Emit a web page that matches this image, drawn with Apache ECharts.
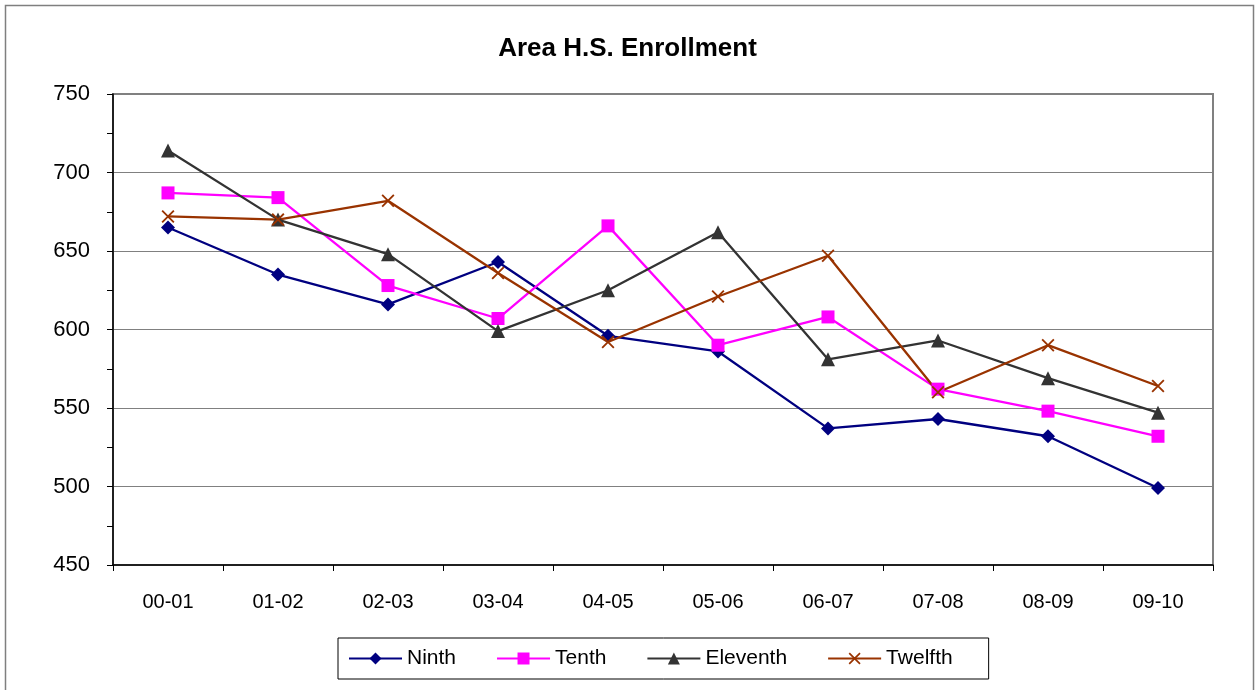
<!DOCTYPE html>
<html>
<head>
<meta charset="utf-8">
<script src="https://cdn.jsdelivr.net/npm/echarts@6/dist/echarts.min.js"></script>
<style>
  html, body { margin: 0; padding: 0; background: #fff; }
  #chart { width: 1255px; height: 690px; }
</style>
</head>
<body>
<div id="chart"></div>
<script>
var years = ['00-01', '01-02', '02-03', '03-04', '04-05', '05-06', '06-07', '07-08', '08-09', '09-10'];
var ninth = [665, 635, 616, 643, 596, 586, 537, 543, 532, 499];
var tenth = [687, 684, 628, 607, 666, 590, 608, 562, 548, 532];
var eleventh = [714, 670, 648, 599, 625, 662, 581, 593, 569, 547];
var twelfth = [672, 670, 682, 636, 592, 621, 647, 560, 590, 564];

var font = '"Liberation Sans", Arial, sans-serif';
// thin X made of two filled bars so it fills like the other markers
var crossPath = 'path://M0,1L1,0L10,9L9,10Z M9,0L10,1L1,10L0,9Z';

function line(name, data, color, symbol, size) {
  return {
    name: name,
    type: 'line',
    data: data,
    symbol: symbol,
    symbolSize: size,
    showAllSymbol: true,
    lineStyle: { color: color, width: 2.3 },
    itemStyle: { color: color },
    animation: false
  };
}

var chart = echarts.init(document.getElementById('chart'));
chart.setOption({
  backgroundColor: '#fff',
  title: {
    text: 'Area H.S. Enrollment',
    left: 'center',
    top: 31,
    textStyle: { fontFamily: font, fontSize: 26, fontWeight: 'bold', color: '#000' }
  },
  graphic: [{
    type: 'rect',
    shape: { x: 5.5, y: 5.5, width: 1248, height: 700 },
    style: { fill: null, stroke: '#7f7f7f', lineWidth: 1.5 },
    silent: true
  }],
  grid: {
    left: 113, right: 42, top: 94, bottom: 125,
    show: true,
    borderColor: '#808080',
    borderWidth: 2
  },
  legend: {
    left: 338,
    top: 638,
    padding: [10, 36, 10, 10],
    itemGap: 40,
    itemWidth: 53,
    itemHeight: 15,
    borderColor: '#000',
    borderWidth: 1,
    textStyle: { fontFamily: font, fontSize: 21, color: '#000' },
    data: ['Ninth', 'Tenth', 'Eleventh', 'Twelfth']
  },
  xAxis: {
    type: 'category',
    data: years,
    boundaryGap: true,
    axisLine: { lineStyle: { color: '#000', width: 1.5 } },
    axisTick: { show: true, length: 6, lineStyle: { color: '#000' } },
    axisLabel: { color: '#000', fontFamily: font, fontSize: 20, margin: 27 }
  },
  yAxis: {
    type: 'value',
    min: 450,
    max: 750,
    interval: 50,
    axisLine: { show: true, lineStyle: { color: '#000', width: 1.5 } },
    axisTick: { show: true, length: 6, lineStyle: { color: '#000' } },
    minorTick: { show: true, splitNumber: 2, length: 6, lineStyle: { color: '#000' } },
    splitLine: { lineStyle: { color: '#808080', width: 1 } },
    axisLabel: { color: '#000', fontFamily: font, fontSize: 22, margin: 23 }
  },
  series: [
    line('Ninth', ninth, '#000080', 'diamond', 14),
    line('Tenth', tenth, '#ff00ff', 'rect', 13),
    line('Eleventh', eleventh, '#333333', 'triangle', 14),
    line('Twelfth', twelfth, '#993300', crossPath, 13)
  ]
});
</script>
</body>
</html>
